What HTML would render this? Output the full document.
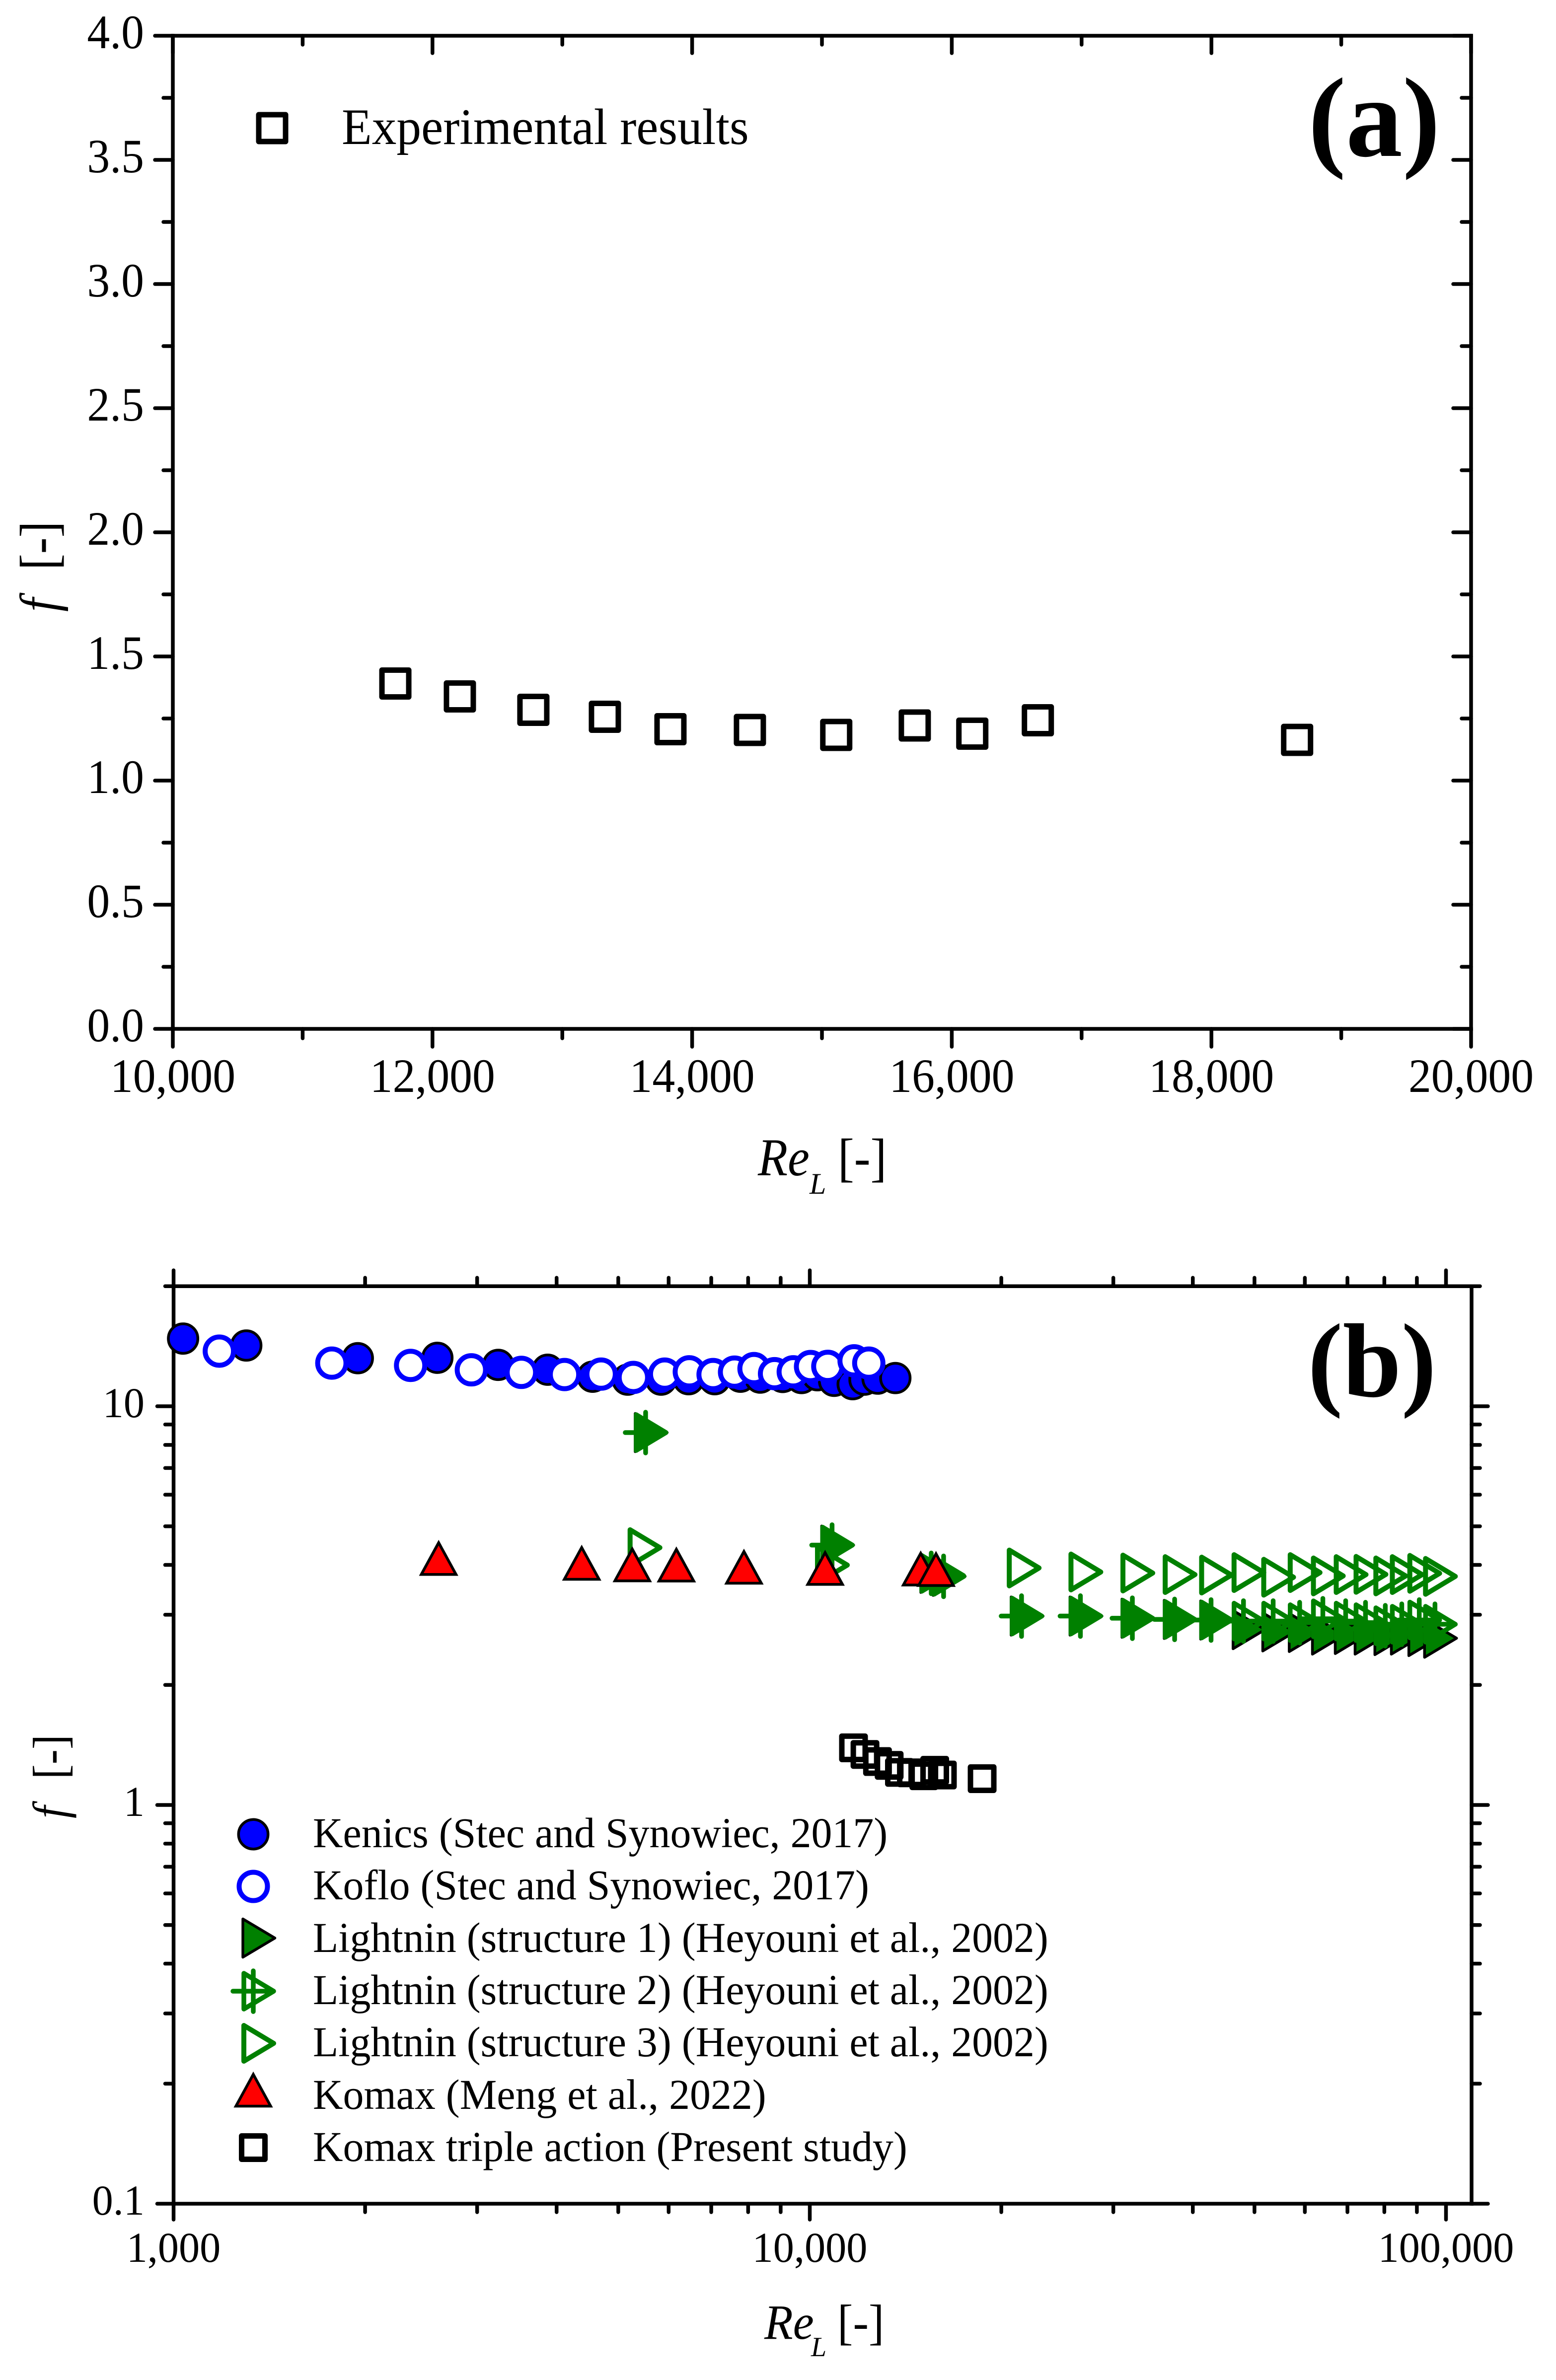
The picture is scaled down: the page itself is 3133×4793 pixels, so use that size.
<!DOCTYPE html>
<html lang="en">
<head>
<meta charset="utf-8">
<title>Friction factor versus Reynolds number</title>
<style>
  html, body { margin: 0; padding: 0; background: #fff; }
  svg { display: block; font-family: "Liberation Serif", "Times New Roman", serif; }
  text { fill: #000; }
</style>
</head>
<body>
<svg id="chart" xmlns="http://www.w3.org/2000/svg" width="3133" height="4793" viewBox="0 0 3133 4793">
  <rect x="0" y="0" width="3133" height="4793" fill="#fff"/>
  <g id="panelA">
    <text x="2634" y="314" font-size="228" font-weight="bold">(a)</text>
    <text transform="translate(688,290) scale(0.965,1)" font-size="103">Experimental results</text>
    <text transform="translate(1526,2367) scale(0.92,1)" font-size="107" font-style="italic">Re</text>
    <text x="1630" y="2404" font-size="60" font-style="italic">L</text>
    <text transform="translate(1687,2367) scale(0.92,1)" font-size="107">[-]</text>
    <text transform="translate(114,1232) rotate(-90) scale(0.92,1)" font-size="107" font-style="italic">f</text>
    <text transform="translate(114,1148) rotate(-90) scale(0.92,1)" font-size="107">[-]</text>
  </g>
  <g id="panelB">
    <text x="2633" y="2812" font-size="212" font-weight="bold">(b)</text>
    <text transform="translate(1539,4710) scale(0.945,1)" font-size="100" font-style="italic">Re</text>
    <text x="1633" y="4745" font-size="56" font-style="italic">L</text>
    <text transform="translate(1686,4710) scale(0.945,1)" font-size="100">[-]</text>
    <text transform="translate(133,3662) rotate(-90) scale(0.936,1)" font-size="96" font-style="italic">f</text>
    <text transform="translate(133,3583) rotate(-90) scale(0.936,1)" font-size="96">[-]</text>
    <g font-size="86">
      <text transform="translate(630,3720) scale(0.975,1)">Kenics (Stec and Synowiec, 2017)</text>
      <text transform="translate(630,3825) scale(0.975,1)">Koflo (Stec and Synowiec, 2017)</text>
      <text transform="translate(630,3931) scale(0.975,1)">Lightnin (structure 1) (Heyouni et al., 2002)</text>
      <text transform="translate(630,4036) scale(0.975,1)">Lightnin (structure 2) (Heyouni et al., 2002)</text>
      <text transform="translate(630,4141) scale(0.975,1)">Lightnin (structure 3) (Heyouni et al., 2002)</text>
      <text transform="translate(630,4247) scale(0.975,1)">Komax (Meng et al., 2022)</text>
      <text transform="translate(630,4352) scale(0.975,1)">Komax triple action (Present study)</text>
    </g>
  </g>
</svg>
<script>
// ---------- Panel a data ----------
const presentRe = [11714, 12211, 12777, 13328, 13833, 14445, 15110, 15715, 16158, 16663, 18660];
const presentF = [1.391, 1.339, 1.285, 1.257, 1.207, 1.204, 1.184, 1.222, 1.189, 1.243, 1.164];

// ---------- Panel b series ----------
const tripleRe = [11714, 12211, 12777, 13328, 13833, 14445, 15110, 15715, 16158, 18660];
const tripleF = [1.391, 1.339, 1.285, 1.257, 1.207, 1.204, 1.184, 1.222, 1.189, 1.164];
const kenicsRe = [1035, 1301, 1948, 2598, 3238, 3873, 4557, 5172, 5838, 6449, 7088, 7780, 8356, 9065, 9705, 10280, 10920, 11680, 12190, 12780, 13630];
const kenicsF = [14.78, 14.2, 13.2, 13.23, 12.7, 12.35, 11.86, 11.66, 11.66, 11.69, 11.69, 11.86, 11.8, 11.84, 11.77, 11.96, 11.58, 11.36, 11.66, 11.73, 11.77];
const kofloRe = [1180, 1773, 2358, 2938, 3521, 4116, 4699, 5281, 5915, 6466, 7047, 7616, 8172, 8802, 9419, 10027, 10674, 11740, 12380];
const kofloF = [13.75, 12.83, 12.66, 12.34, 12.16, 12.01, 12.04, 11.81, 12.04, 12.2, 12.01, 12.18, 12.43, 12.07, 12.2, 12.58, 12.59, 13.0, 12.83];
const lightnin1Re = [5520, 10840, 15520, 16230, 21520, 26630, 32140, 37450, 42730, 48050, 53500, 58880, 64040, 69550, 74730, 80280, 85210, 90780, 96090];
const lightnin1F = [8.59, 4.485, 3.81, 3.745, 2.977, 2.977, 2.94, 2.92, 2.91, 2.753, 2.717, 2.708, 2.668, 2.677, 2.668, 2.66, 2.668, 2.645, 2.62];
const lightnin2Re = [5520, 10840, 15520, 16230, 21520, 26630, 32140, 37450, 42730, 48050, 53500, 58880, 64040, 69550, 74730, 80280, 85210, 90780, 96090];
const lightnin2F = [8.59, 4.485, 3.81, 3.745, 2.977, 2.977, 2.94, 2.92, 2.91, 2.892, 2.892, 2.866, 2.931, 2.892, 2.866, 2.816, 2.84, 2.91, 2.84];
const lightnin3Re = [5400, 10640, 16200, 21300, 26630, 32140, 37450, 42730, 48050, 53500, 58880, 64040, 69550, 74730, 80280, 85210, 90780, 96090];
const lightnin3F = [4.42, 3.997, 3.76, 3.93, 3.84, 3.817, 3.783, 3.773, 3.827, 3.726, 3.827, 3.754, 3.783, 3.788, 3.754, 3.783, 3.81, 3.744];
const komaxRe = [2610, 4380, 5260, 6170, 7880, 10570, 14940, 15790];
const komaxF = [4.067, 3.955, 3.92, 3.915, 3.866, 3.84, 3.826, 3.816];

// ---------- Tick values and labels ----------
const aXMajor = [10000, 12000, 14000, 16000, 18000, 20000];
const aXMinor = [11000, 13000, 15000, 17000, 19000];
const aXLabels = ['10,000', '12,000', '14,000', '16,000', '18,000', '20,000'];
const aYMajor = [0, 0.5, 1, 1.5, 2, 2.5, 3, 3.5, 4];
const aYMinor = [0.25, 0.75, 1.25, 1.75, 2.25, 2.75, 3.25, 3.75];
const aYLabels = ['0.0', '0.5', '1.0', '1.5', '2.0', '2.5', '3.0', '3.5', '4.0'];
const bXMajor = [1000, 10000, 100000];
const bXMinor = [2000, 3000, 4000, 5000, 6000, 7000, 8000, 9000, 20000, 30000, 40000, 50000, 60000, 70000, 80000, 90000];
const bXLabels = ['1,000', '10,000', '100,000'];
const bYMajor = [0.1, 1, 10];
const bYMinor = [0.2, 0.3, 0.4, 0.5, 0.6, 0.7, 0.8, 0.9, 2, 3, 4, 5, 6, 7, 8, 9, 20];
const bYLabels = ['0.1', '1', '10'];

// ---------- Axis functions ----------
const xA = v => 348 + (v - 10000) * 0.2614;
const yA = v => 2072 - v * 500;
const xB = v => 349.5 + (Math.log10(v) - 3) * 1281;
const yB = v => 3635 - Math.log10(v) * 803;

const SVG_NS = 'http://www.w3.org/2000/svg';
const GREEN = '#008000';
const gA = document.getElementById('panelA');
const gB = document.getElementById('panelB');

function shape(parent, tag, attrs) {
  const el = document.createElementNS(SVG_NS, tag);
  for (const k in attrs) el.setAttribute(k, attrs[k]);
  parent.appendChild(el);
  return el;
}

function axisLine(parent, x1, y1, x2, y2) {
  const el = shape(parent, 'line', { x1, y1, x2, y2, stroke: '#000', 'stroke-width': 7.5, 'stroke-linecap': 'square' });
  
  
}

function tick(parent, x1, y1, x2, y2) {
  const el = shape(parent, 'line', { x1, y1, x2, y2, stroke: '#000', 'stroke-width': 7.5, 'stroke-linecap': 'round' });
  
  
}

function tickLabel(parent, x, y, anchor, size, sx, str) {
  const el = shape(parent, 'text', { transform: 'translate(' + x + ',' + y + ') scale(' + sx + ',1)', 'text-anchor': anchor, 'font-size': size });
  el.textContent = str;
  
  
}

function squareMark(parent, cx, cy, size, sw) {
  return shape(parent, 'rect', { x: cx - size / 2, y: cy - size / 2, width: size, height: size, fill: 'none', stroke: '#000', 'stroke-width': sw, 'stroke-linejoin': 'round' });
}
function filledCircle(parent, cx, cy) {
  return shape(parent, 'circle', { cx, cy, r: 29.7, fill: '#0000ff', stroke: '#000', 'stroke-width': 5.5 });
}
function hollowCircle(parent, cx, cy) {
  return shape(parent, 'circle', { cx, cy, r: 28.5, fill: '#fff', stroke: '#0000ff', 'stroke-width': 10 });
}
function triPoints(cx, cy, l, h, r) {
  return (cx - l) + ',' + (cy - h) + ' ' + (cx - l) + ',' + (cy + h) + ' ' + (cx + r) + ',' + cy;
}
function rightFilled(parent, cx, cy) {
  return shape(parent, 'polygon', { points: triPoints(cx, cy, 21, 38.5, 43.5), fill: GREEN, stroke: '#000', 'stroke-width': 5.5, 'stroke-linejoin': 'round' });
}
function rightHollow(parent, cx, cy) {
  return shape(parent, 'polygon', { points: triPoints(cx, cy, 19, 36, 41), fill: 'none', stroke: GREEN, 'stroke-width': 10, 'stroke-linejoin': 'round' });
}
function rightCrossed(parent, cx, cy) {
  const d = 'M' + (cx - 19) + ' ' + (cy - 36) + 'L' + (cx - 19) + ' ' + (cy + 36) + 'L' + (cx + 41) + ' ' + cy + 'Z' +
            'M' + (cx - 41) + ' ' + cy + 'L' + (cx + 41) + ' ' + cy +
            'M' + cx + ' ' + (cy - 41) + 'L' + cx + ' ' + (cy + 41);
  return shape(parent, 'path', { d, fill: 'none', stroke: GREEN, 'stroke-width': 9.5, 'stroke-linejoin': 'round', 'stroke-linecap': 'round' });
}
function upTriangle(parent, cx, cy) {
  return shape(parent, 'polygon', { points: cx + ',' + (cy - 39) + ' ' + (cx - 35) + ',' + (cy + 25) + ' ' + (cx + 35) + ',' + (cy + 25), fill: '#ff0000', stroke: '#000', 'stroke-width': 5.5, 'stroke-linejoin': 'miter' });
}

// ---------- Panel a axes ----------
axisLine(gA, xA(10000), yA(0), xA(20000), yA(0));
axisLine(gA, xA(10000), yA(4), xA(20000), yA(4));
axisLine(gA, xA(10000), yA(0), xA(10000), yA(4));
axisLine(gA, xA(20000), yA(0), xA(20000), yA(4));
aXMajor.forEach((v, i) => {
  tick(gA, xA(v), yA(0), xA(v), yA(0) + 36);
  tick(gA, xA(v), yA(4), xA(v), yA(4) + 35);
  tickLabel(gA, xA(v), 2199, 'middle', 96, 0.955, aXLabels[i]);
});
aXMinor.forEach(v => {
  tick(gA, xA(v), yA(0), xA(v), yA(0) + 19);
  tick(gA, xA(v), yA(4), xA(v), yA(4) + 18);
});
aYMajor.forEach((v, i) => {
  tick(gA, xA(10000), yA(v), xA(10000) - 36, yA(v));
  tick(gA, xA(20000), yA(v), xA(20000) - 36, yA(v));
  tickLabel(gA, 290, yA(v) + 25, 'end', 96, 0.955, aYLabels[i]);
});
aYMinor.forEach(v => {
  tick(gA, xA(10000), yA(v), xA(10000) - 19, yA(v));
  tick(gA, xA(20000), yA(v), xA(20000) - 19, yA(v));
});

// ---------- Panel a marks ----------
presentRe.forEach((re, i) => {
  const el = squareMark(gA, xA(re), yA(presentF[i]), 54, 11);
  
  
});
const legendA = squareMark(gA, 548, 258, 54, 11);



// ---------- Panel b axes ----------
const bRight = 2963;
axisLine(gB, xB(1000), yB(0.1), bRight, yB(0.1));
axisLine(gB, xB(1000), yB(20), bRight, yB(20));
axisLine(gB, xB(1000), yB(0.1), xB(1000), yB(20));
axisLine(gB, bRight, yB(0.1), bRight, yB(20));
bXMajor.forEach((v, i) => {
  tick(gB, xB(v), yB(0.1), xB(v), yB(0.1) + 32);
  tick(gB, xB(v), yB(20), xB(v), yB(20) - 32);
  tickLabel(gB, xB(v), 4555, 'middle', 86, 0.98, bXLabels[i]);
});
bXMinor.forEach(v => {
  tick(gB, xB(v), yB(0.1), xB(v), yB(0.1) + 17);
  tick(gB, xB(v), yB(20), xB(v), yB(20) - 17);
});
bYMajor.forEach((v, i) => {
  tick(gB, xB(1000), yB(v), xB(1000) - 33, yB(v));
  tick(gB, bRight, yB(v), bRight + 33, yB(v));
  tickLabel(gB, 291, yB(v) + 22, 'end', 86, 0.98, bYLabels[i]);
});
bYMinor.forEach(v => {
  tick(gB, xB(1000), yB(v), xB(1000) - 17, yB(v));
  tick(gB, bRight, yB(v), bRight + 17, yB(v));
});

// ---------- Panel b marks ----------
kenicsRe.forEach((re, i) => {
  const el = filledCircle(gB, xB(re), yB(kenicsF[i]));
  
  
});
kofloRe.forEach((re, i) => {
  const el = hollowCircle(gB, xB(re), yB(kofloF[i]));
  
  
});
lightnin1Re.forEach((re, i) => {
  const el = rightFilled(gB, xB(re), yB(lightnin1F[i]));
  
  
});
lightnin2Re.forEach((re, i) => {
  const el = rightCrossed(gB, xB(re), yB(lightnin2F[i]));
  
  
});
lightnin3Re.forEach((re, i) => {
  const el = rightHollow(gB, xB(re), yB(lightnin3F[i]));
  
  
});
komaxRe.forEach((re, i) => {
  const el = upTriangle(gB, xB(re), yB(komaxF[i]));
  
  
});
tripleRe.forEach((re, i) => {
  const el = squareMark(gB, xB(re), yB(tripleF[i]), 47, 11);
  
  
});

// ---------- Panel b legend markers ----------
const lm1 = filledCircle(gB, 510, 3694);


const lm2 = hollowCircle(gB, 510, 3799);


const lm3 = rightFilled(gB, 510, 3903);


const lm4 = rightCrossed(gB, 510, 4010);


const lm5 = rightHollow(gB, 510, 4115);


const lm6 = upTriangle(gB, 510, 4216.5);


const lm7 = squareMark(gB, 510, 4325, 47, 11);


</script>
</body>
</html>
